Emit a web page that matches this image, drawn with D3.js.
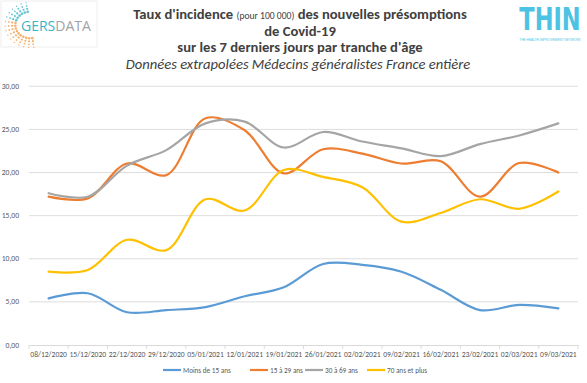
<!DOCTYPE html>
<html><head><meta charset="utf-8">
<script src="https://cdn.jsdelivr.net/npm/d3@7/dist/d3.min.js"></script>
<style>body{margin:0;background:#fff}svg{display:block}</style>
</head><body>
<svg id="c" width="587" height="383"></svg>
<script>
const dates = ["08/12/2020","15/12/2020","22/12/2020","29/12/2020","05/01/2021","12/01/2021","19/01/2021","26/01/2021","02/02/2021","09/02/2021","16/02/2021","23/02/2021","02/03/2021","09/03/2021"];
const seriesNames = ["Moins de 15 ans","15 à 29 ans","30 à 69 ans","70 ans et plus"];
const seriesColors = ["#5B9BD5","#ED7D31","#A5A5A5","#FFC000"];
const moins15 = [5.4, 6.0, 3.8, 4.05, 4.4, 5.65, 6.7, 9.4, 9.3, 8.5, 6.4, 4.05, 4.65, 4.25];
const a15_29  = [17.2, 17.0, 21.05, 19.7, 26.3, 24.9, 19.9, 22.7, 22.2, 21.05, 21.3, 17.2, 21.1, 20.0];
const a30_69  = [17.6, 17.2, 20.8, 22.6, 25.7, 25.9, 22.9, 24.7, 23.6, 22.8, 21.9, 23.3, 24.3, 25.7];
const a70plus = [8.5, 8.7, 12.2, 11.0, 16.9, 15.6, 20.3, 19.5, 18.3, 14.3, 15.3, 16.9, 15.8, 17.8];
const yTicks = [0,5,10,15,20,25,30];
const allSeries = [moins15, a15_29, a30_69, a70plus];

const svg = d3.select("#c");
const font = "Carlito, Lato, 'Liberation Sans', sans-serif";
const x = d3.scaleBand().domain(dates).range([29, 578]);
const y = d3.scaleLinear().domain([0,30]).range([345, 86.3]);

// gridlines
svg.append("g").selectAll("line").data(yTicks.filter(d=>d>0)).join("line")
  .attr("x1",29).attr("x2",578).attr("y1",d=>y(d)).attr("y2",d=>y(d))
  .attr("stroke","#d9d9d9").attr("stroke-width",0.9);

// y labels
const fmt = d => d3.format(".2f")(d).replace(".",",");
svg.append("g").selectAll("text").data(yTicks).join("text")
  .attr("x",19).attr("y",d=>y(d)+2.6).attr("text-anchor","end")
  .attr("font-family",font).attr("font-size",7.6).attr("fill","#595959").text(fmt);

// x axis
const xa = svg.append("g").attr("transform","translate(0,345)")
  .call(d3.axisBottom(x).tickSize(0).tickPadding(7));
xa.select(".domain").attr("stroke","#d9d9d9");
xa.selectAll("text").attr("font-family",font).attr("font-size",7.6).attr("fill","#595959");
// tick marks at band boundaries
const bounds = dates.map(d=>x(d)).concat([x(dates[dates.length-1])+x.bandwidth()]);
svg.append("g").selectAll("line").data(bounds).join("line")
  .attr("x1",d=>d).attr("x2",d=>d).attr("y1",345).attr("y2",349)
  .attr("stroke","#d9d9d9").attr("stroke-width",0.9);

// lines
const line = d3.line().x((d,i)=>x(dates[i])+x.bandwidth()/2).y(d=>y(d)).curve(d3.curveCatmullRom.alpha(0.5));
svg.append("g").selectAll("path").data(allSeries).join("path")
  .attr("d",line).attr("fill","none").attr("stroke",(d,i)=>seriesColors[i])
  .attr("stroke-width",2.2).attr("stroke-linecap","round").attr("stroke-linejoin","round");

// legend
const legX = [163, 250, 305, 367];
const lg = svg.append("g").selectAll("g").data(seriesNames).join("g")
  .attr("transform",(d,i)=>`translate(${legX[i]},370)`);
lg.append("line").attr("x1",0).attr("x2",18).attr("stroke",(d,i)=>seriesColors[i]).attr("stroke-width",2.2);
lg.append("text").attr("x",20).attr("y",2.5).attr("font-family",font).attr("font-size",7.2).attr("fill","#595959").text(d=>d);

// title
const tcol = "#404040";
const tfs = 14.6;
const t1 = svg.append("text").attr("x",300).attr("y",19).attr("text-anchor","middle")
  .attr("font-family",font).attr("font-weight","bold").attr("font-size",tfs).attr("fill",tcol);
t1.append("tspan").text("Taux d'incidence ");
t1.append("tspan").attr("font-size",9.6).attr("font-weight","normal").text("(pour 100 000)");
t1.append("tspan").text(" des nouvelles présomptions");
svg.append("text").attr("x",300).attr("y",35.5).attr("text-anchor","middle")
  .attr("font-family",font).attr("font-weight","bold").attr("font-size",tfs).attr("fill",tcol).text("de Covid-19");
svg.append("text").attr("x",300).attr("y",52).attr("text-anchor","middle")
  .attr("font-family",font).attr("font-weight","bold").attr("font-size",tfs).attr("fill",tcol).text("sur les 7 derniers jours par tranche d'âge");
svg.append("text").attr("x",298).attr("y",68.5).attr("text-anchor","middle")
  .attr("font-family",font).attr("font-style","italic").attr("font-size",tfs).attr("fill",tcol).text("Données extrapolées Médecins généralistes France entière");

// GERSDATA logo
const gl = svg.append("g");
gl.append("rect").attr("x",1).attr("y",1).attr("width",96).attr("height",46).attr("fill","#fff").attr("stroke","#eeeeee");
const dots = [];
for (let r=0;r<4;r++){
  for (let k=0;k<16;k++){
    const ang = Math.PI*0.55 + k*(Math.PI*1.0/15);
    const rad = 14 + r*3.2;
    const cx = 30 + rad*Math.cos(ang)*1.05, cy = 25 - rad*Math.sin(ang)*0.95;
    const col = ang < Math.PI*0.95 ? "#3ab5c8" : "#f0a050";
    dots.push({cx,cy,col,r:1.3 - r*0.2});
  }
}
gl.selectAll("circle").data(dots).join("circle").attr("cx",d=>d.cx).attr("cy",d=>d.cy).attr("r",d=>d.r).attr("fill",d=>d.col).attr("opacity",0.8);
const gt = gl.append("text").attr("x",21).attr("y",31).attr("font-family","'Open Sans', sans-serif").attr("font-size",14);
gt.append("tspan").attr("fill","#3ab5c8").text("GERS");
gt.append("tspan").attr("fill","#a0a4a8").text("DATA");

// THIN logo
svg.append("text").attr("transform","translate(550,30) scale(1,1.3)").attr("text-anchor","middle")
  .attr("font-family","'DejaVu Sans Condensed','Liberation Sans Narrow',sans-serif").attr("font-weight","bold")
  .attr("font-size",25).attr("fill","#4dc3e3").text("THIN");
svg.append("text").attr("x",550).attr("y",41).attr("text-anchor","middle")
  .attr("font-family","'Liberation Sans',sans-serif").attr("font-size",3.2).attr("fill","#4dc3e3")
  .text("THE HEALTH IMPROVEMENT NETWORK");
</script>
</body></html>
